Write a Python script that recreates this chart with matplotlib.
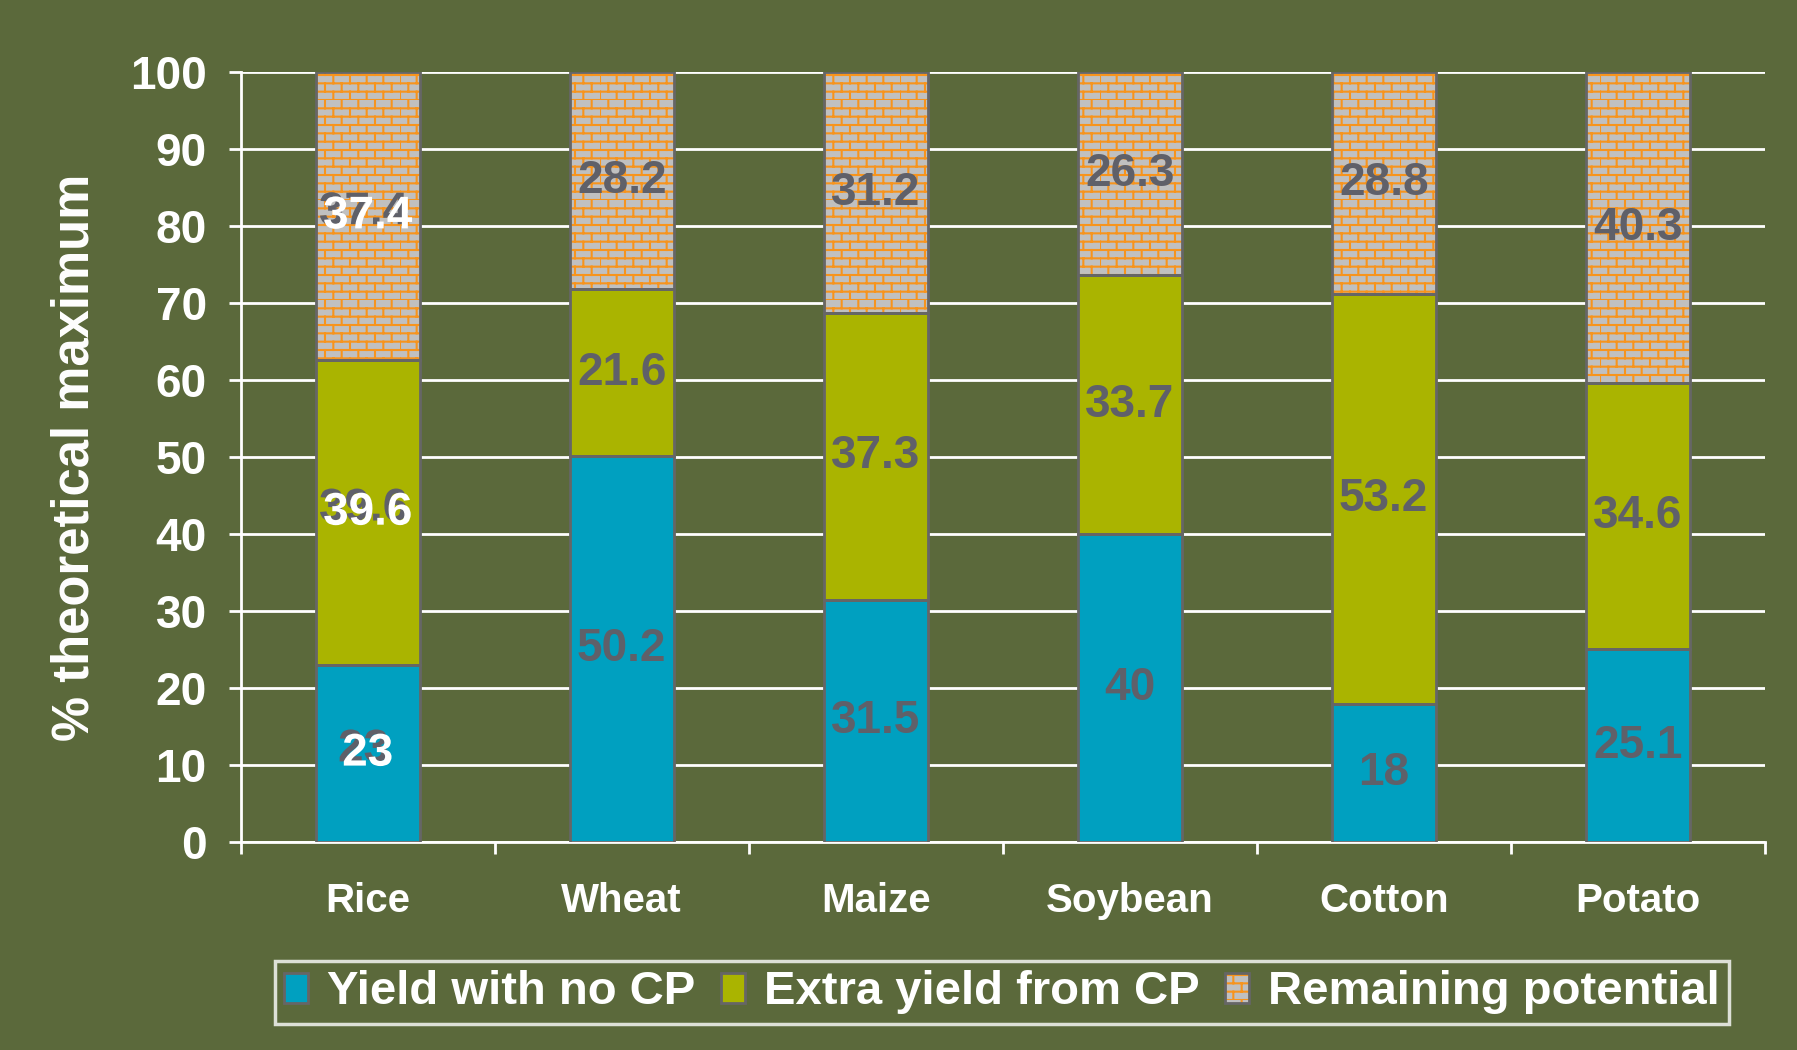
import warnings
import numpy as np
import matplotlib
matplotlib.use("Agg")
import matplotlib.pyplot as plt
import matplotlib.hatch as mhatch
import matplotlib.patheffects as pe
from matplotlib.path import Path
from matplotlib.legend_handler import HandlerTuple

warnings.filterwarnings("ignore")

# data
crops = ["Rice", "Wheat", "Maize", "Soybean", "Cotton", "Potato"]
no_cp = [23, 50.2, 31.5, 40, 18, 25.1]
extra_cp = [39.6, 21.6, 37.3, 33.7, 53.2, 34.6]
remaining = [37.4, 28.2, 31.2, 26.3, 28.8, 40.3]
series_names = ["Yield with no CP", "Extra yield from CP", "Remaining potential"]
yticks = list(range(0, 101, 10))


# brick hatch: horizontal mortar lines plus staggered joints
class BrickHatch(mhatch.HatchPatternBase):
    def __init__(self, hatch, density):
        self.rows = int(hatch.count("B") * density)
        self.cols = self.rows // 2
        self.num_vertices = 2 * self.rows + 2 * self.rows * self.cols

    def set_vertices_and_codes(self, vertices, codes):
        k = 0
        n, m = self.rows, self.cols
        for i in range(n):
            vertices[k] = (0, i / n)
            vertices[k + 1] = (1, i / n)
            codes[k] = Path.MOVETO
            codes[k + 1] = Path.LINETO
            k += 2
            for j in range(m):
                xx = (j + 0.5 * (i % 2)) / m
                vertices[k] = (xx, i / n)
                vertices[k + 1] = (xx, (i + 1) / n)
                codes[k] = Path.MOVETO
                codes[k + 1] = Path.LINETO
                k += 2


mhatch._hatch_types.append(BrickHatch)

plt.rcParams["font.family"] = ["Liberation Sans", "DejaVu Sans"]
plt.rcParams["font.weight"] = "bold"
plt.rcParams["hatch.linewidth"] = 1.5

bg = "#5b693b"
blue = "#00a0c0"
green = "#aab400"
brick_face = "#c0c0c0"
brick_line = "#f7941d"
edge = "#666666"
label_gray = "#5f6069"

fig = plt.figure(figsize=(17.97, 10.5), dpi=100, facecolor=bg)
ax = fig.add_axes([0.134, 0.198, 0.848, 0.733])
ax.set_facecolor("none")

x = np.arange(len(crops))
w = 0.41
b2 = np.array(no_cp)
b3 = b2 + np.array(extra_cp)

h1 = ax.bar(x, no_cp, w, color=blue, linewidth=0, zorder=2)
h2 = ax.bar(x, extra_cp, w, bottom=b2, color=green, linewidth=0, zorder=2)
h3 = ax.bar(x, remaining, w, bottom=b3, color=brick_face, edgecolor=brick_line,
            linewidth=0, hatch="BB", zorder=2)
o1 = ax.bar(x, no_cp, w, fill=False, edgecolor=edge, linewidth=2, zorder=3)
o2 = ax.bar(x, extra_cp, w, bottom=b2, fill=False, edgecolor=edge, linewidth=2, zorder=3)
o3 = ax.bar(x, remaining, w, bottom=b3, fill=False, edgecolor=edge, linewidth=2, zorder=3)

# segment labels, Rice ones are white with a gray shadow
for vals, bots in [(no_cp, np.zeros(len(crops))), (extra_cp, b2), (remaining, b3)]:
    for i, (v, b) in enumerate(zip(vals, bots)):
        txt = f"{v:g}"
        if i == 0:
            ax.text(x[i], b + v / 2, txt, ha="center", va="center", fontsize=33,
                    fontweight="bold", color="white", zorder=5,
                    path_effects=[pe.withSimplePatchShadow(offset=(-3, 3), shadow_rgbFace=label_gray, alpha=1)])
        else:
            ax.text(x[i], b + v / 2, txt, ha="center", va="center", fontsize=33,
                    fontweight="bold", color=label_gray, zorder=5)

ax.set_xlim(-0.5, len(crops) - 0.5)
ax.set_ylim(0, 100)
ax.set_yticks(yticks)
ax.set_xticks(x)
ax.set_xticklabels(crops)
ax.set_xticks(np.arange(-0.5, len(crops)), minor=True)

ax.tick_params(axis="x", which="major", length=0, pad=29, labelsize=29, labelcolor="white")
ax.tick_params(axis="x", which="minor", length=8.6, width=2, color="white")
ax.tick_params(axis="y", length=8.6, width=2, color="white", pad=16, labelsize=33, labelcolor="white")
for lab in ax.get_xticklabels() + ax.get_yticklabels():
    lab.set_fontweight("bold")

ax.yaxis.grid(True, color="white", linewidth=2)
ax.set_axisbelow(True)
for s in ["top", "right"]:
    ax.spines[s].set_visible(False)
for s in ["left", "bottom"]:
    ax.spines[s].set_color("white")
    ax.spines[s].set_linewidth(2)

ax.set_ylabel("% theoretical maximum", fontsize=36.5, fontweight="bold", color="white")
ax.yaxis.set_label_coords(-0.093, 0.5)

leg = fig.legend([(h1, o1), (h2, o2), (h3, o3)], series_names, ncol=3, loc="center",
                 bbox_to_anchor=(0.5576, 0.0548), bbox_transform=fig.transFigure,
                 handler_map={tuple: HandlerTuple(ndivide=1, pad=0)},
                 prop={"size": 34, "weight": "bold"}, labelcolor="white",
                 frameon=True, fancybox=False, edgecolor="white", facecolor="none",
                 handlelength=0.5, handleheight=0.6, handletextpad=0.4,
                 columnspacing=0.55, borderpad=0.2)
leg.get_frame().set_linewidth(2.5)

fig.savefig("out.png", dpi=100, facecolor=bg)
